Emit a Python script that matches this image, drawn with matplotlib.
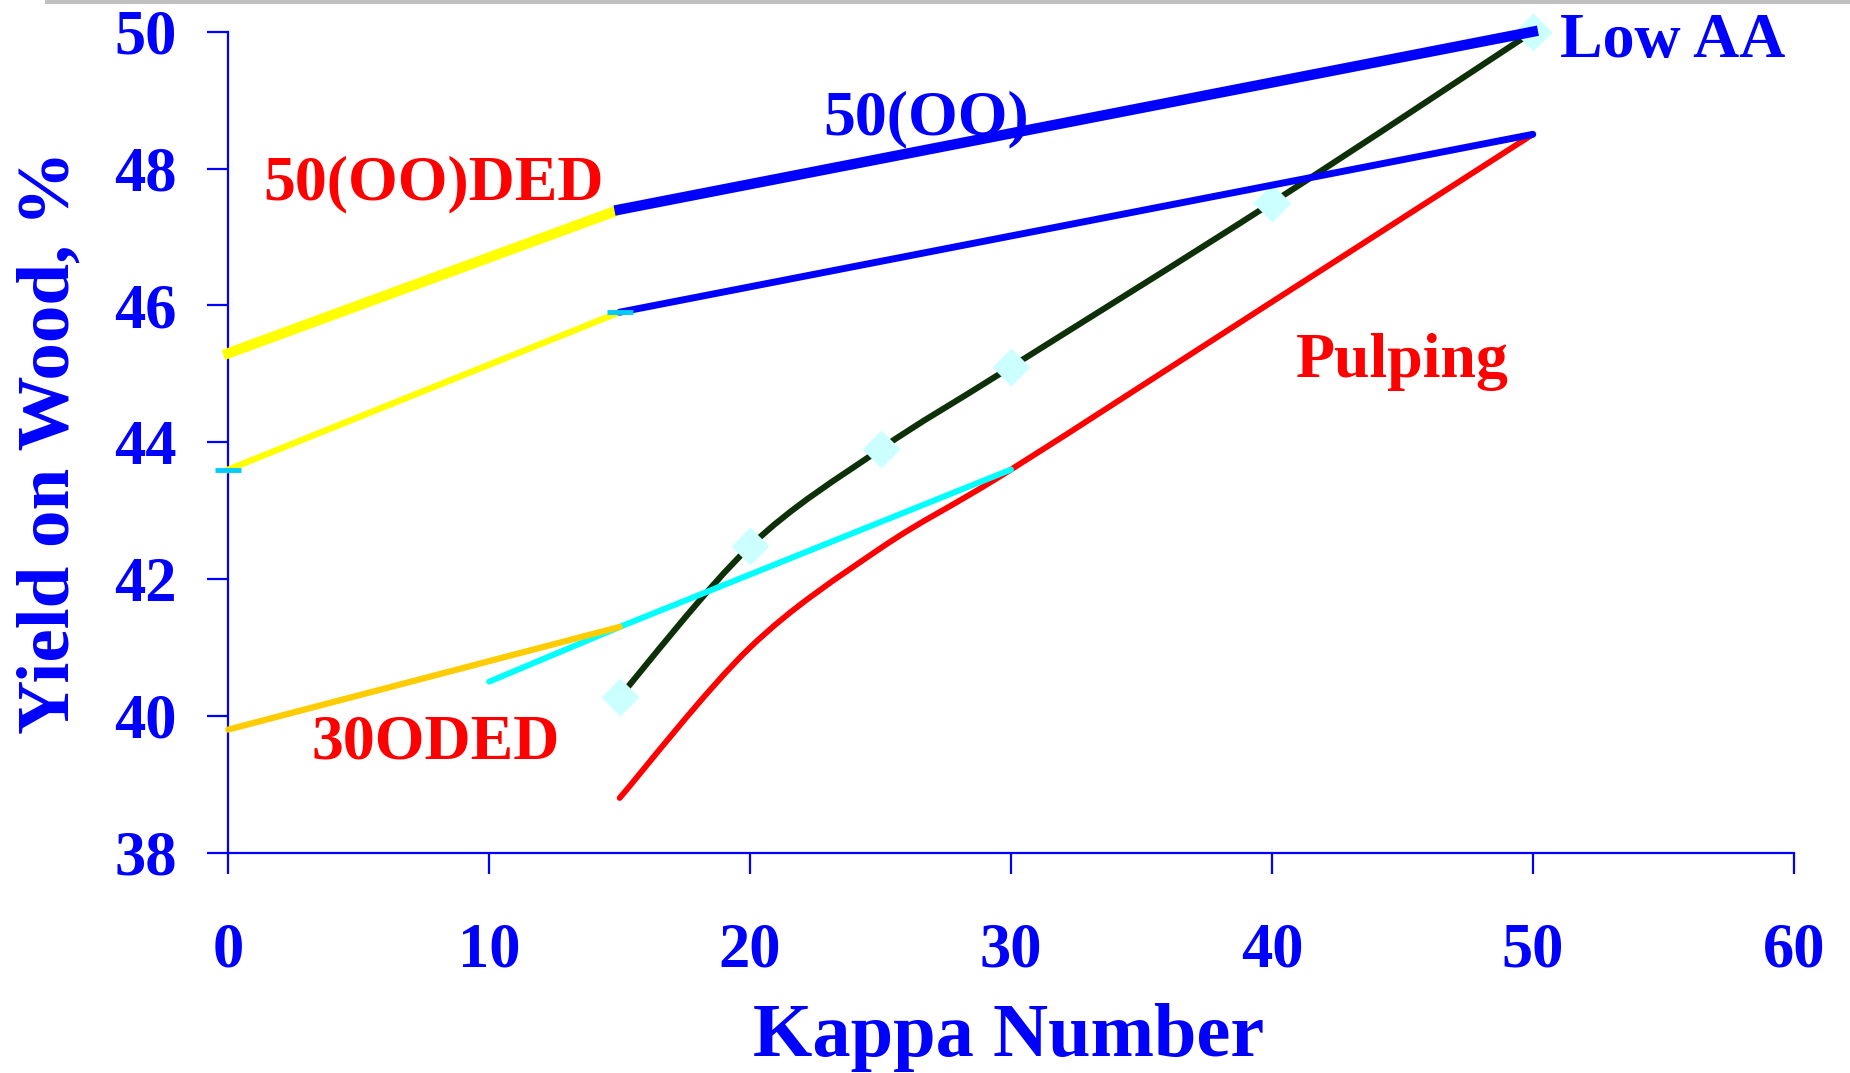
import numpy as np
import matplotlib
matplotlib.use("Agg")
import matplotlib.pyplot as plt
from matplotlib.path import Path
from matplotlib.patches import PathPatch, Rectangle

plt.rcParams['font.family'] = ['Liberation Serif', 'DejaVu Serif']
plt.rcParams['font.weight'] = 'bold'

BLUE = '#0000ff'
RED = '#ff0000'

# data (Kappa number, yield on wood %)
oo50_kappa = [15, 50]
oo50_yield = [47.4, 50.0]
oo50_ded_kappa = [0, 15]
oo50_ded_yield = [45.3, 47.4]

oo50b_kappa = [15, 50]
oo50b_yield = [45.9, 48.5]
oo50b_ded_kappa = [0, 15]
oo50b_ded_yield = [43.6, 45.9]

lowaa_kappa = [15, 20, 25, 30, 40, 50]
lowaa_yield = [40.28, 42.48, 43.9, 45.1, 47.5, 50.0]

pulp_kappa = [15, 20, 25, 30, 40, 50]
pulp_yield = [38.8, 41.0, 42.45, 43.6, 46.05, 48.5]

o30_kappa = [10, 15, 30]
o30_yield = [40.5, 41.3, 43.6]
o30_ded_kappa = [0, 15]
o30_ded_yield = [39.8, 41.3]

dash_kappa = [0, 15]
dash_yield = [43.6, 45.9]

x_ticks = [0, 10, 20, 30, 40, 50, 60]
y_ticks = [38, 40, 42, 44, 46, 48, 50]


def smooth_path(xs, ys):
    # Excel style smoothed line: Bezier segments through the points
    pts = np.column_stack([xs, ys]).astype(float)
    n = len(pts)
    verts = [pts[0]]
    codes = [Path.MOVETO]
    for i in range(n - 1):
        p0 = pts[i - 1] if i > 0 else pts[i]
        p3 = pts[i + 2] if i + 2 < n else pts[i + 1]
        c1 = pts[i] + (pts[i + 1] - p0) / 6.0
        c2 = pts[i + 1] - (p3 - pts[i]) / 6.0
        verts += [c1, c2, pts[i + 1]]
        codes += [Path.CURVE4] * 3
    return Path(verts, codes)


W, H = 1850, 1073
fig = plt.figure(figsize=(W / 100, H / 100), dpi=100)
fig.patch.set_facecolor('white')
fig.add_artist(Rectangle((45 / W, 1 - 4 / H), 1, 4 / H, transform=fig.transFigure,
                         facecolor='#c0c0c0', edgecolor='none'))

L, R, T, B = 228.3, 1793.7, 31.7, 852.7
ax = fig.add_axes([L / W, 1 - B / H, (R - L) / W, (B - T) / H])

# curves
ax.add_patch(PathPatch(smooth_path(pulp_kappa, pulp_yield), fill=False, edgecolor=RED,
                       lw=4.2, capstyle='round', clip_on=False, zorder=2))
ax.add_patch(PathPatch(smooth_path(lowaa_kappa, lowaa_yield), fill=False, edgecolor='#0d3008',
                       lw=4.4, capstyle='round', clip_on=False, zorder=2.1))
ax.plot(lowaa_kappa, lowaa_yield, ls='none', marker='D', ms=19, mfc='#ccffff', mec='none',
        clip_on=False, zorder=2.2)

ax.plot(o30_kappa, o30_yield, color='#00ffff', lw=4.3, solid_capstyle='round', zorder=3, clip_on=False)
ax.plot(o30_ded_kappa, o30_ded_yield, color='#ffcc00', lw=4.5, solid_capstyle='round', zorder=3.1,
        clip_on=False)

ax.plot(oo50b_ded_kappa, oo50b_ded_yield, color='#ffff00', lw=4.6, zorder=3, clip_on=False)
ax.plot(oo50b_kappa, oo50b_yield, color=BLUE, lw=5.0, solid_capstyle='round', zorder=3.2, clip_on=False)
ax.plot(oo50_ded_kappa, oo50_ded_yield, color='#ffff00', lw=7.5, zorder=3, clip_on=False)
ax.plot(oo50_kappa, oo50_yield, color=BLUE, lw=7.5, zorder=3.3, clip_on=False)

ax.plot(dash_kappa, dash_yield, ls='none', marker='_', ms=19, mew=3.5, color='#00ccff',
        zorder=4, clip_on=False)

# labels on the plot
txt = dict(fontsize=46, fontweight='bold', ha='left', va='baseline')
ax.text(1.33, 47.555, '50(OO)DED', color=RED, **txt)
ax.text(22.79, 48.505, '50(OO)', color=BLUE, **txt)
ax.text(51.04, 49.63, 'Low AA', color=BLUE, **txt)
ax.text(40.9, 44.95, 'Pulping', color=RED, **txt)
ax.text(3.17, 39.37, '30ODED', color=RED, **txt)

ax.set_xlim(0, 60)
ax.set_ylim(38, 50)
ax.set_xticks(x_ticks)
ax.set_yticks(y_ticks)
ax.set_facecolor('none')
for s in ['top', 'right']:
    ax.spines[s].set_visible(False)
for s in ['left', 'bottom']:
    ax.spines[s].set_color(BLUE)
    ax.spines[s].set_linewidth(1.6)
ax.tick_params(axis='both', direction='out', length=15, width=1.6, color=BLUE,
               labelcolor=BLUE, labelsize=45)
ax.tick_params(axis='x', pad=35)
ax.tick_params(axis='y', pad=22)
for lab in ax.get_xticklabels() + ax.get_yticklabels():
    lab.set_fontweight('bold')

fig.text(1009 / W, 1 - 1056 / H, 'Kappa Number', color=BLUE, fontsize=55, fontweight='bold',
         ha='center', va='baseline')
fig.text(69 / W, 1 - 442 / H, 'Yield on Wood, %', color=BLUE, fontsize=54, fontweight='bold',
         ha='center', va='baseline', rotation=90, rotation_mode='anchor')

fig.savefig('out.png', dpi=100, facecolor='white')
